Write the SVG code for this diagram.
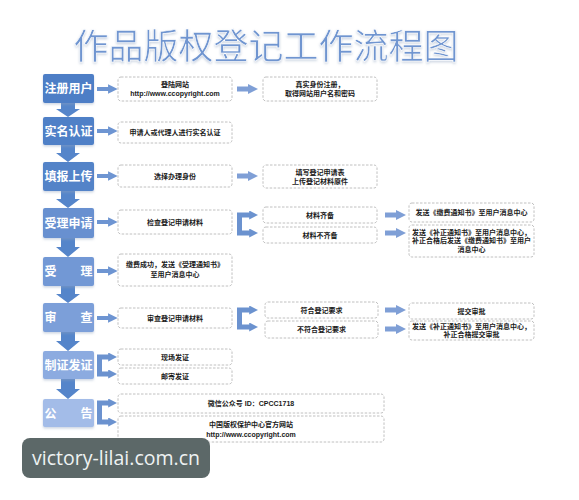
<svg xmlns="http://www.w3.org/2000/svg" width="579" height="500" viewBox="0 0 579 500">
  <defs>
    <style>
      .title { font-family: "Noto Sans CJK SC", "Noto Sans", sans-serif; font-size: 35px; fill: #6f95d0; stroke: #ffffff; stroke-width: 0.6px; font-weight: 400; }
      .stage-label { font-family: "Noto Sans CJK SC", "Liberation Sans", sans-serif; font-size: 12px; font-weight: 700; fill: #ffffff; text-anchor: middle; }
      .box { fill: #ffffff; stroke: #b9b9b9; stroke-width: 0.9; stroke-dasharray: 2.5 1.5; }
      .txt { font-family: "Liberation Sans", "Noto Sans CJK SC", sans-serif; font-size: 7px; font-weight: 700; fill: #1a1a1a; text-anchor: middle; }
      .arrow { stroke: #6e95d2; stroke-width: 4; fill: none; }
      .arrow-wide { stroke: #7f9fd6; stroke-width: 5; fill: none; }
      .bracket { stroke: #6b92cf; stroke-width: 5; fill: none; stroke-linejoin: miter; }
      .down { fill: #5585ca; }
      .wm-bg { fill: #5c6868; }
      .wm-txt { font-family: "Open Sans", "Noto Sans", sans-serif; font-size: 20px; fill: #eef2f2; }
    </style>
    <marker id="head" viewBox="0 0 10 10" refX="2" refY="5" markerWidth="2.4" markerHeight="2.4" orient="auto" markerUnits="strokeWidth">
      <path d="M0,0 L10,5 L0,10 Z" fill="#6e95d2"/>
    </marker>
    <marker id="head-wide" viewBox="0 0 10 10" refX="2" refY="5" markerWidth="2" markerHeight="2" orient="auto" markerUnits="strokeWidth">
      <path d="M0,0 L10,5 L0,10 Z" fill="#7f9fd6"/>
    </marker>
    <marker id="head-bracket" viewBox="0 0 10 10" refX="2" refY="5" markerWidth="1.8" markerHeight="1.8" orient="auto" markerUnits="strokeWidth">
      <path d="M0,0 L10,5 L0,10 Z" fill="#6b92cf"/>
    </marker>
    <filter id="soft" x="-10%" y="-10%" width="120%" height="130%">
      <feDropShadow dx="0" dy="1.5" stdDeviation="1" flood-color="#8fa3c0" flood-opacity="0.45"/>
    </filter>
  </defs>

  <rect width="579" height="500" fill="#ffffff"/>

  <!-- heading -->
  <text class="title" x="266" y="59" text-anchor="middle" filter="url(#soft)">作品版权登记工作流程图</text>

  <!-- connectors -->
  <g id="connectors">
    <!-- downward stage arrows -->
    <path class="down" d="M61,103 H75 V109 H80 L68,117 L56,109 H61 Z"/>
    <path class="down" d="M61,145 H75 V153 H80 L68,162 L56,153 H61 Z"/>
    <path class="down" d="M61,191 H75 V199 H80 L68,208 L56,199 H61 Z"/>
    <path class="down" d="M61,238 H75 V247 H80 L68,257 L56,247 H61 Z"/>
    <path class="down" d="M61,286 H75 V294 H80 L68,303 L56,294 H61 Z"/>
    <path class="down" d="M61,332 H75 V341 H80 L68,351 L56,341 H61 Z"/>
    <path class="down" d="M61,379 H75 V389 H80 L68,399 L56,389 H61 Z"/>

    <!-- stage to detail -->
    <path class="arrow" d="M97,89 H110" marker-end="url(#head)"/>
    <path class="arrow" d="M97,131 H110" marker-end="url(#head)"/>
    <path class="arrow" d="M97,176 H110" marker-end="url(#head)"/>
    <path class="arrow" d="M97,222 H110" marker-end="url(#head)"/>
    <path class="arrow" d="M97,271 H110" marker-end="url(#head)"/>
    <path class="arrow" d="M97,318 H110" marker-end="url(#head)"/>
    <path class="bracket" d="M99.5,365 V357 H110" marker-end="url(#head-bracket)"/>
    <path class="bracket" d="M99.5,365 V374 H110" marker-end="url(#head-bracket)"/>
    <path class="bracket" d="M99.5,412 V403 H110" marker-end="url(#head-bracket)"/>
    <path class="bracket" d="M99.5,412 V422 H110" marker-end="url(#head-bracket)"/>

    <!-- detail to second column -->
    <path class="arrow-wide" d="M237,89 H250" marker-end="url(#head-wide)"/>
    <path class="arrow-wide" d="M237,176 H250" marker-end="url(#head-wide)"/>
    <path class="bracket" d="M239.5,224 V215 H251" marker-end="url(#head-bracket)"/>
    <path class="bracket" d="M239.5,224 V233 H251" marker-end="url(#head-bracket)"/>
    <path class="bracket" d="M239.5,318 V310 H251" marker-end="url(#head-bracket)"/>
    <path class="bracket" d="M239.5,318 V327 H251" marker-end="url(#head-bracket)"/>

    <!-- second to third column -->
    <path class="arrow-wide" d="M385,215 H398" marker-end="url(#head-wide)"/>
    <path class="arrow-wide" d="M385,233 H398" marker-end="url(#head-wide)"/>
    <path class="arrow-wide" d="M385,310 H398" marker-end="url(#head-wide)"/>
    <path class="arrow-wide" d="M385,329 H398" marker-end="url(#head-wide)"/>
  </g>

  <!-- stage nodes -->
  <g id="stage-register">
    <rect x="43" y="74" width="51" height="29" rx="2" fill="#4d7ec6" filter="url(#soft)"/>
    <text class="stage-label" x="68.5" y="93">注册用户</text>
  </g>
  <g id="stage-verify">
    <rect x="43" y="117" width="51" height="28" rx="2" fill="#4f80c7" filter="url(#soft)"/>
    <text class="stage-label" x="68.5" y="135.5">实名认证</text>
  </g>
  <g id="stage-fill">
    <rect x="43" y="162" width="51" height="29" rx="2" fill="#5383c8" filter="url(#soft)"/>
    <text class="stage-label" x="68.5" y="181">填报上传</text>
  </g>
  <g id="stage-apply">
    <rect x="43" y="208" width="51" height="30" rx="2" fill="#6790d0" filter="url(#soft)"/>
    <text class="stage-label" x="68.5" y="227.5">受理申请</text>
  </g>
  <g id="stage-accept">
    <rect x="43" y="257" width="51" height="29" rx="2" fill="#7298d5" filter="url(#soft)"/>
    <text class="stage-label" x="68.5" y="276">受　　理</text>
  </g>
  <g id="stage-review">
    <rect x="43" y="303" width="51" height="29" rx="2" fill="#7b9fd9" filter="url(#soft)"/>
    <text class="stage-label" x="68.5" y="322">审　　查</text>
  </g>
  <g id="stage-issue">
    <rect x="43" y="351" width="51" height="28" rx="2" fill="#8cabe0" filter="url(#soft)"/>
    <text class="stage-label" x="68.5" y="369.5">制证发证</text>
  </g>
  <g id="stage-announce">
    <rect x="43" y="399" width="51" height="28" rx="2" fill="#a3bce8" filter="url(#soft)"/>
    <text class="stage-label" x="68.5" y="417.5">公　　告</text>
  </g>

  <!-- detail nodes -->
  <g id="login-site">
    <rect class="box" x="118" y="77" width="114" height="24" rx="3"/>
    <text class="txt" x="175" y="87">登陆网站</text>
    <text class="txt" x="175" y="96">http://www.ccopyright.com</text>
  </g>
  <g id="real-name-signup">
    <rect class="box" x="263" y="77" width="114" height="24" rx="3"/>
    <text class="txt" x="320" y="87">真实身份注册，</text>
    <text class="txt" x="320" y="96">取得网站用户名和密码</text>
  </g>
  <g id="identity-check">
    <rect class="box" x="118" y="122" width="114" height="21" rx="3"/>
    <text class="txt" x="175" y="135">申请人或代理人进行实名认证</text>
  </g>
  <g id="choose-identity">
    <rect class="box" x="118" y="165" width="114" height="22" rx="3"/>
    <text class="txt" x="175" y="178.5">选择办理身份</text>
  </g>
  <g id="fill-form">
    <rect class="box" x="263" y="165" width="114" height="23" rx="3"/>
    <text class="txt" x="320" y="174.5">填写登记申请表</text>
    <text class="txt" x="320" y="183.5">上传登记材料原件</text>
  </g>
  <g id="check-materials">
    <rect class="box" x="118" y="210" width="114" height="24" rx="3"/>
    <text class="txt" x="175" y="224.5">检查登记申请材料</text>
  </g>
  <g id="materials-complete">
    <rect class="box" x="263" y="207" width="114" height="16" rx="3"/>
    <text class="txt" x="320" y="217.5">材料齐备</text>
  </g>
  <g id="materials-incomplete">
    <rect class="box" x="263" y="227" width="114" height="16" rx="3"/>
    <text class="txt" x="320" y="237.5">材料不齐备</text>
  </g>
  <g id="fee-notice">
    <rect class="box" x="409" y="203" width="125" height="19" rx="3"/>
    <text class="txt" x="471.5" y="215">发送《缴费通知书》至用户消息中心</text>
  </g>
  <g id="correction-notice">
    <rect class="box" x="409" y="225" width="125" height="32" rx="3"/>
    <text class="txt" x="471.5" y="234.5">发送《补正通知书》至用户消息中心，</text>
    <text class="txt" x="471.5" y="243">补正合格后发送《缴费通知书》至用户</text>
    <text class="txt" x="471.5" y="251.5">消息中心</text>
  </g>
  <g id="payment-done">
    <rect class="box" x="118" y="254" width="114" height="32" rx="3"/>
    <text class="txt" x="175" y="267">缴费成功，发送《受理通知书》</text>
    <text class="txt" x="175" y="277">至用户消息中心</text>
  </g>
  <g id="review-materials">
    <rect class="box" x="118" y="308" width="114" height="20" rx="3"/>
    <text class="txt" x="175" y="320.5">审查登记申请材料</text>
  </g>
  <g id="meets-requirements">
    <rect class="box" x="265" y="302" width="113" height="16" rx="3"/>
    <text class="txt" x="321.5" y="312.5">符合登记要求</text>
  </g>
  <g id="fails-requirements">
    <rect class="box" x="265" y="321" width="113" height="17" rx="3"/>
    <text class="txt" x="321.5" y="332">不符合登记要求</text>
  </g>
  <g id="submit-approval">
    <rect class="box" x="409" y="303" width="125" height="16" rx="3"/>
    <text class="txt" x="471.5" y="313.5">提交审批</text>
  </g>
  <g id="correct-then-submit">
    <rect class="box" x="409" y="321" width="125" height="19" rx="3"/>
    <text class="txt" x="471.5" y="329">发送《补正通知书》至用户消息中心，</text>
    <text class="txt" x="471.5" y="337">补正合格提交审批</text>
  </g>
  <g id="onsite-issue">
    <rect class="box" x="118" y="349" width="114" height="16" rx="3"/>
    <text class="txt" x="175" y="359.5">现场发证</text>
  </g>
  <g id="mail-issue">
    <rect class="box" x="118" y="368" width="114" height="16" rx="3"/>
    <text class="txt" x="175" y="378.5">邮寄发证</text>
  </g>
  <g id="wechat-account">
    <rect class="box" x="118" y="394" width="266" height="19" rx="3"/>
    <text class="txt" x="251" y="406">微信公众号 ID：CPCC1718</text>
  </g>
  <g id="official-site">
    <rect class="box" x="118" y="416" width="266" height="26" rx="3"/>
    <text class="txt" x="251" y="426.5">中国版权保护中心官方网站</text>
    <text class="txt" x="251" y="436.5">http://www.ccopyright.com</text>
  </g>

  <!-- site badge -->
  <g id="badge">
    <rect class="wm-bg" x="22" y="438" width="188" height="40" rx="8"/>
    <text class="wm-txt" x="32" y="465" textLength="168" lengthAdjust="spacingAndGlyphs">victory-lilai.com.cn</text>
  </g>
</svg>
